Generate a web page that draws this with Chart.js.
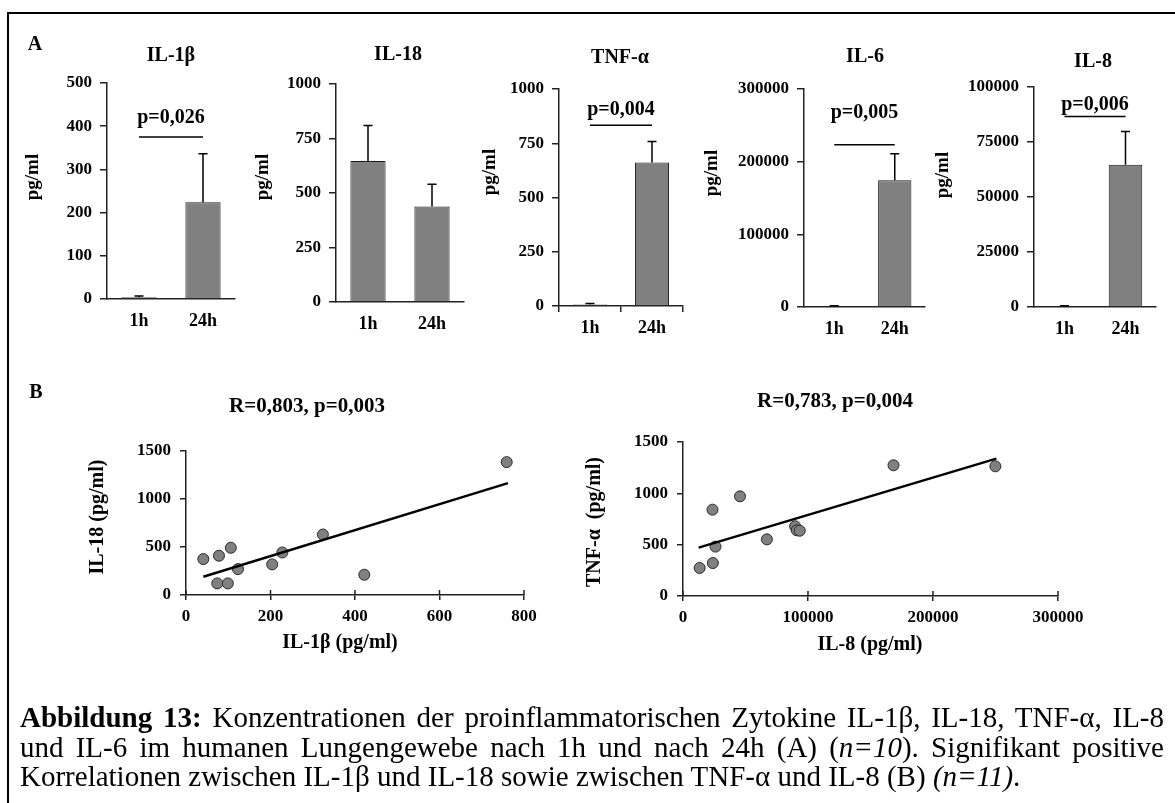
<!DOCTYPE html>
<html>
<head>
<meta charset="utf-8">
<script src="https://cdn.jsdelivr.net/npm/chart.js@4.4.1/dist/chart.umd.min.js"></script>
<style>
  body { margin: 0; background: #fff; width: 1175px; height: 803px; overflow: hidden; position: relative;
         font-family: "Liberation Serif", "Times New Roman", serif; }
  .frame { position: absolute; left: 7px; top: 12px; width: 1300px; height: 900px;
           border-left: 2px solid #000; border-top: 2px solid #000; }
  canvas { position: absolute; left: 0; top: 0; }
  #caption { position: absolute; left: 20px; top: 703px; width: 1144px; font-size: 29px; line-height: 29.5px;
             color: #000; }
  #caption div { text-align: justify; text-align-last: justify; white-space: nowrap; }
  #caption div.last { text-align-last: left; }
</style>
</head>
<body>
<div class="frame"></div>
<canvas id="b1" width="1175" height="803"></canvas>
<canvas id="b2" width="1175" height="803"></canvas>
<canvas id="b3" width="1175" height="803"></canvas>
<canvas id="b4" width="1175" height="803"></canvas>
<canvas id="b5" width="1175" height="803"></canvas>
<canvas id="s1" width="1175" height="803"></canvas>
<canvas id="s2" width="1175" height="803"></canvas>
<div id="caption">
  <div><b>Abbildung 13:</b> Konzentrationen der proinflammatorischen Zytokine IL-1β, IL-18, TNF-α, IL-8</div>
  <div>und IL-6 im humanen Lungengewebe nach 1h und nach 24h (A) (<i>n=10</i>). Signifikant positive</div>
  <div class="last">Korrelationen zwischen IL-1β und IL-18 sowie zwischen TNF-α und IL-8 (B) <i>(n=11)</i>.</div>
</div>
<script>
// Panel A: mean and SD per time point
const categories = ['1h', '24h'];
const il1bMean = [4, 224];
const il1bSD = [3, 112];
const il18Mean = [647, 438];
const il18SD = [163, 102];
const tnfMean = [7, 661];
const tnfSD = [5, 97];
const il6Mean = [1200, 174500];
const il6SD = [400, 36500];
const il8Mean = [450, 64700];
const il8SD = [150, 15100];

// y axis range per bar chart
const yMax = [500, 1000, 1000, 300000, 100000];
const yStep = [100, 250, 250, 100000, 25000];

// significance brackets (levels in data units)
const pLabels = ['p=0,026', null, 'p=0,004', 'p=0,005', 'p=0,006'];
const pLineAt = [375, null, 833, 223400, 86600];
const pTextAt = [419, null, 904, 266600, 91800];

// Panel B: correlations
const corrIL1b = [41, 78, 106, 74, 99, 123, 204, 228, 324, 422, 759];
const corrIL18 = [374, 409, 492, 121, 121, 270, 319, 443, 630, 211, 1384];
const fit1X = [41, 762];
const fit1Y = [190, 1165];
const corrIL8 = [13300, 23900, 23600, 26000, 45600, 67100, 89700, 91000, 93400, 168400, 249900];
const corrTNF = [273, 321, 841, 481, 971, 552, 679, 640, 636, 1273, 1263];
const fit2X = [12500, 250700];
const fit2Y = [471, 1338];

const W = 1175, H = 803;
const FONT = '"Liberation Serif", "Times New Roman", serif';
const tickFont = { family: FONT, size: 17, weight: 'bold' };
const catFont = { family: FONT, size: 18, weight: 'bold' };
const AXIS = '#222';

const errorBars = {
  id: 'errorBars',
  afterDatasetsDraw(chart, args, opts) {
    if (!opts.sd) return;
    const ctx = chart.ctx, y = chart.scales.y;
    const vals = chart.data.datasets[0].data;
    ctx.save();
    ctx.strokeStyle = '#000';
    ctx.lineWidth = 1.5;
    chart.getDatasetMeta(0).data.forEach((bar, i) => {
      const top = y.getPixelForValue(vals[i] + opts.sd[i]);
      ctx.beginPath();
      ctx.moveTo(bar.x, bar.y);
      ctx.lineTo(bar.x, top);
      ctx.moveTo(bar.x - 4.5, top);
      ctx.lineTo(bar.x + 4.5, top);
      ctx.stroke();
    });
    ctx.restore();
  }
};

const decor = {
  id: 'decor',
  afterDraw(chart, args, opts) {
    const ctx = chart.ctx;
    ctx.save();
    ctx.fillStyle = '#000';
    ctx.strokeStyle = '#000';
    (opts.texts || []).forEach(t => {
      ctx.save();
      ctx.font = `bold ${t.size}px ${FONT}`;
      ctx.textAlign = 'center';
      ctx.textBaseline = 'middle';
      ctx.translate(t.x, t.y);
      if (t.rot) ctx.rotate(-Math.PI / 2);
      ctx.fillText(t.text, 0, 0);
      ctx.restore();
    });
    if (opts.bracket && opts.bracket.label) {
      const x = chart.scales.x, y = chart.scales.y, b = opts.bracket;
      const x0 = x.getPixelForValue(0), x1 = x.getPixelForValue(1);
      const py = y.getPixelForValue(b.line);
      ctx.lineWidth = 1.5;
      ctx.beginPath();
      ctx.moveTo(x0, py);
      ctx.lineTo(x1, py);
      ctx.stroke();
      ctx.font = `bold 20px ${FONT}`;
      ctx.textAlign = 'center';
      ctx.textBaseline = 'middle';
      ctx.fillText(b.label, (x0 + x1) / 2, y.getPixelForValue(b.text));
    }
    if (opts.crossTicks) {
      const x = chart.scales.x, bottom = chart.chartArea.bottom;
      ctx.strokeStyle = AXIS;
      ctx.lineWidth = 1.5;
      x.ticks.forEach(t => {
        const px = x.getPixelForValue(t.value);
        ctx.beginPath();
        ctx.moveTo(px, bottom - 5);
        ctx.lineTo(px, bottom);
        ctx.stroke();
      });
    }
    ctx.restore();
  }
};

// box = [left, right, top, bottom] of the plot area in page pixels
function barChart(id, i, mean, sd, box, title, ylab, catTicks) {
  new Chart(document.getElementById(id), {
    type: 'bar',
    data: {
      labels: categories,
      datasets: [{
        data: mean,
        backgroundColor: '#808080',
        borderColor: '#1a1a1a',
        borderWidth: 1,
        barPercentage: 0.55,
        categoryPercentage: 1
      }]
    },
    options: {
      responsive: false,
      animation: false,
      events: [],
      layout: { padding: { left: box[0] - 90, right: W - box[1], top: box[2], bottom: H - box[3] - 40 } },
      plugins: {
        legend: { display: false },
        tooltip: { enabled: false },
        errorBars: { sd: sd },
        decor: {
          texts: [title, ylab],
          bracket: { label: pLabels[i], line: pLineAt[i], text: pTextAt[i] }
        }
      },
      scales: {
        x: {
          grid: { drawOnChartArea: false, drawTicks: catTicks, tickLength: 6, offset: true, color: AXIS, lineWidth: 1.5 },
          border: { color: AXIS, width: 1.5 },
          ticks: { color: '#000', font: catFont, padding: catTicks ? 6 : 12 },
          afterFit: s => { s.height = 40; }
        },
        y: {
          min: 0,
          max: yMax[i],
          ticks: { stepSize: yStep[i], color: '#000', font: tickFont, padding: 8, callback: v => String(v) },
          grid: { drawOnChartArea: false, tickLength: 7, color: AXIS, lineWidth: 1.5 },
          border: { color: AXIS, width: 1.5 },
          afterFit: s => { s.width = 90; }
        }
      }
    },
    plugins: [errorBars, decor]
  });
}

function scatterChart(id, xs, ys, fx, fy, box, xMax, xStep, texts) {
  new Chart(document.getElementById(id), {
    type: 'scatter',
    data: {
      datasets: [
        {
          data: xs.map((x, k) => ({ x: x, y: ys[k] })),
          pointRadius: 5.5,
          pointBackgroundColor: '#808080',
          pointBorderColor: '#2a2a2a',
          pointBorderWidth: 1,
          order: 1
        },
        {
          data: fx.map((x, k) => ({ x: x, y: fy[k] })),
          showLine: true,
          pointRadius: 0,
          borderColor: '#000',
          borderWidth: 2.5,
          order: 0
        }
      ]
    },
    options: {
      responsive: false,
      animation: false,
      events: [],
      layout: { padding: { left: box[0] - 70, right: W - box[1], top: box[2], bottom: H - box[3] - 40 } },
      plugins: {
        legend: { display: false },
        tooltip: { enabled: false },
        decor: { texts: texts, crossTicks: true }
      },
      scales: {
        x: {
          type: 'linear',
          min: 0,
          max: xMax,
          ticks: { stepSize: xStep, color: '#000', font: tickFont, padding: 6, callback: v => String(v) },
          grid: { drawOnChartArea: false, tickLength: 5, color: AXIS, lineWidth: 1.5 },
          border: { color: AXIS, width: 1.5 },
          afterFit: s => { s.height = 40; }
        },
        y: {
          min: 0,
          max: 1500,
          ticks: { stepSize: 500, color: '#000', font: tickFont, padding: 9, callback: v => String(v) },
          grid: { drawOnChartArea: false, tickLength: 6, color: AXIS, lineWidth: 1.5 },
          border: { color: AXIS, width: 1.5 },
          afterFit: s => { s.width = 70; }
        }
      }
    },
    plugins: [decor]
  });
}

const T = (text, x, y, size, rot) => ({ text, x, y, size, rot: !!rot });

barChart('b1', 0, il1bMean, il1bSD, [107, 235, 83, 299], T('IL-1β', 171, 56, 20), T('pg/ml', 33, 177, 19, true), false);
barChart('b2', 1, il18Mean, il18SD, [336, 464, 84, 302], T('IL-18', 398, 55, 20), T('pg/ml', 263, 177, 19, true), false);
barChart('b3', 2, tnfMean, tnfSD, [559, 683, 89, 306], T('TNF-α', 620, 58, 20), T('pg/ml', 490, 172, 19, true), true);
barChart('b4', 3, il6Mean, il6SD, [804, 925, 89, 307], T('IL-6', 865, 57, 20), T('pg/ml', 712, 173, 19, true), false);
barChart('b5', 4, il8Mean, il8SD, [1034, 1156, 87, 307], T('IL-8', 1093, 62, 20), T('pg/ml', 943, 175, 19, true), false);

scatterChart('s1', corrIL1b, corrIL18, fit1X, fit1Y, [186, 524, 451, 595], 800, 200, [
  T('A', 35, 45, 20), T('B', 36, 393, 20),
  T('R=0,803, p=0,003', 307, 407, 21),
  T('IL-1β (pg/ml)', 340, 643, 20),
  T('IL-18 (pg/ml)', 98, 517, 20, true)
]);
scatterChart('s2', corrIL8, corrTNF, fit2X, fit2Y, [683, 1058, 442, 596], 300000, 100000, [
  T('R=0,783, p=0,004', 835, 402, 21),
  T('IL-8 (pg/ml)', 870, 645, 20),
  T('TNF-α  (pg/ml)', 595, 522, 20, true)
]);
</script>
</body>
</html>
